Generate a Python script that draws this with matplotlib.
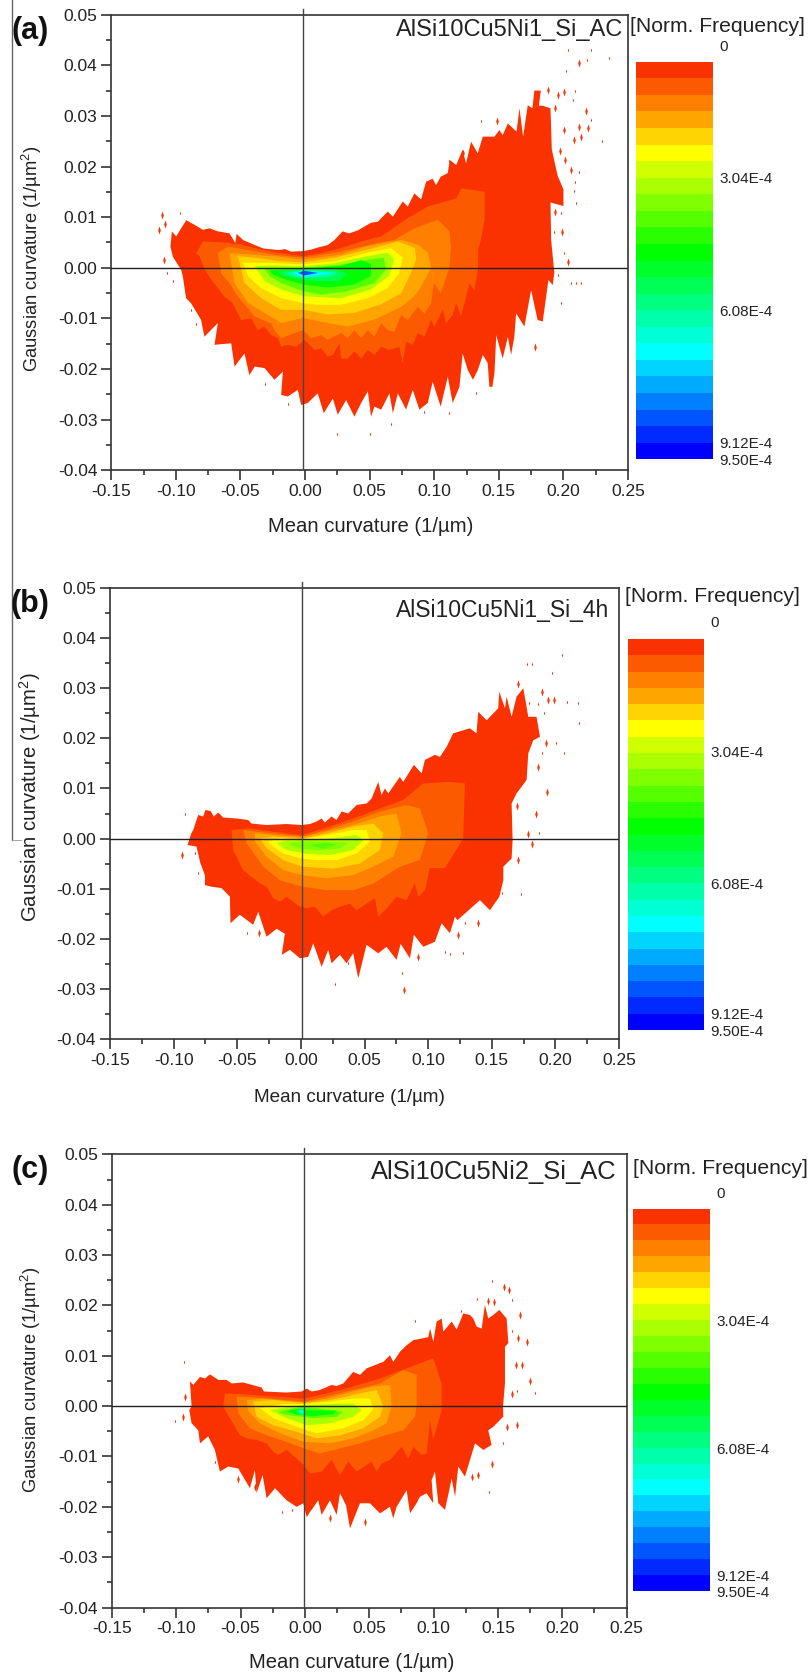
import matplotlib
matplotlib.use('Agg')
import matplotlib.pyplot as plt
from matplotlib.colors import ListedColormap
import numpy as np

plt.rcParams['font.family'] = ['Liberation Sans', 'DejaVu Sans']
plt.rcParams['axes.unicode_minus'] = False
plt.rcParams['mathtext.default'] = 'regular'

# colour of each of the 24 bands, top of the legend to bottom
band_colors = ['#FA3200', '#FC5A00', '#FF8000', '#FFA500', '#FFD400', '#FFFF00',
               '#D0FF00', '#AAFF00', '#80FF00', '#55FF00', '#2AFF00', '#00FF00',
               '#00FF2A', '#00FF55', '#00FF80', '#00FFAA', '#00FFD4', '#00FFFF',
               '#00D4FF', '#00AAFF', '#0080FF', '#0055FF', '#002AFF', '#0000FF']
cbar_labels = ['0', '3.04E-4', '6.08E-4', '9.12E-4', '9.50E-4']
xticks = [-0.15, -0.10, -0.05, 0.00, 0.05, 0.10, 0.15, 0.20, 0.25]
xminor = [-0.125, -0.075, -0.025, 0.025, 0.075, 0.125, 0.175, 0.225]
yticks = [-0.04, -0.03, -0.02, -0.01, 0.00, 0.01, 0.02, 0.03, 0.04, 0.05]
yminor = [-0.035, -0.025, -0.015, -0.005, 0.005, 0.015, 0.025, 0.035, 0.045]

# panel (a): outer edge of the distribution
a_outer_x = [-.1031, -.0998, -.092, -.0856, -.0791, -.074, -.0675, -.0585, -.054, -.053, -.048, -.039, -.032, -.024,
             -.020, -.0155, -.011, -.0015, .0047, .0098, .0176, .0228, .029, .034, .041, .051, .0563, .064, .068,
             .0756, .0795, .0846, .0898, .0937, .0988, .1014, .105, .1105, .112, .117, .122, .1246, .1285, .1337,
             .1376, .1466, .1505, .153, .157, .1637, .166, .1688, .1724, .176, .1775, .1825, .181, .184, .190,
             .191, .1955, .2, .2, .19, .1905, .193, .1917, .1884, .184, .180, .175, .1698, .1634, .162, .1595,
             .157, .153, .148, .1466, .145, .1427, .1414, .1376, .1337, .13, .126, .122, .1195, .1143, .1105,
             .105, .0988, .095, .0885, .0834, .0782, .0718, .068, .0653, .0589, .0537, .0511, .0486, .0434,
             .0382, .0318, .0253, .0215, .0145, .0098, .002, -.003, -.0056, -.0134, -.0185, -.0172, -.0237,
             -.0314, -.039, -.0431, -.0469, -.0546, -.0572, -.0701, -.0675, -.0779, -.0805, -.0882, -.0921,
             -.0946, -.0959, -.1024, -.1042]
a_outer_y = [.0072, .0062, .0094, .0085, .0075, .0078, .0072, .0068, .0049, .0067, .0055, .0045, .0038, .0036,
             .0035, .0037, .0032, .0033, .0036, .004, .0045, .0055, .0072, .0068, .0074, .0089, .0091, .0111, .0101,
             .0131, .0121, .0147, .0135, .017, .0176, .0163, .018, .0187, .0213, .0203, .0233, .0206, .0249, .0226,
             .0259, .0259, .0272, .0262, .0285, .0269, .0315, .0259, .0321, .0315, .035, .035, .032, .032, .0315,
             .0234, .0182, .0155, .0122, .0129, .0055, -.001, -.0034, -.0024, -.0106, -.0103, -.0044, -.0116, -.009,
             -.0136, -.0172, -.0136, -.0179, -.0133, -.0208, -.0235, -.0235, -.0188, -.0172, -.0202, -.0221, -.0202,
             -.0169, -.0235, -.0267, -.0215, -.0274, -.0225, -.0267, -.028, -.0241, -.028, -.0248, -.0287, -.0248,
             -.028, -.0274, -.0294, -.0244, -.0267, -.0294, -.0261, -.029, -.0258, -.0287, -.0248, -.0267, -.0271,
             -.0241, -.0254, -.0251, -.0205, -.0221, -.0198, -.0195, -.0212, -.0169, -.0195, -.0149, -.0152, -.0109,
             -.0136, -.0103, -.007, -.006, -.0017, -.0004, .0022, .0042]
# panel (a): inner bands, index into band_colors
a_levels = [1, 2, 3, 4, 5, 7, 9, 11, 13, 15, 17, 21]
a_band_x = [
    [-.0843, -.079, -.0624, -.0495, -.034, -.016, -.0015, .0125, .028, .0434, .059, .0795, .095, .117, .121, .139, .139,
     .136, .134, .134, .1311, .1272, .1208, .117, .1143, .1092, .1066, .1002, .0976, .0924, .0873, .0834, .0782, .0756, .0731,
     .0653, .0589, .0537, .0486, .0434, .0382, .0331, .0279, .0266, .0215, .0176, .0124, .0073, -.0005, -.0069, -.0134,
     -.0185, -.0211, -.0263, -.0314, -.0366, -.0417, -.0495, -.056, -.0624, -.0727, -.0778, -.0817],
    [-.0675, -.0598, -.0443, -.0237, -.0015, .028, .0537, .0692, .0846, .1027, .1117, .113, .1117, .105, .0998, .0976, .0924,
     .0873, .0795, .0744, .0692, .064, .0589, .0537, .0486, .0434, .0382, .0331, .0279, .0176, .0124, .0047, -.0015, -.0082,
     -.0185, -.0237, -.0263, -.0327, -.0392, -.0431, -.052, -.0585, -.0649],
    [-.0585, -.0237, -.0015, .028, .0485, .0745, .0872, .095, .0977, .090, .0846, .0745, .0537, .033, .0176, -.0015,
     -.0185, -.0314, -.0443, -.0546],
    [-.052, -.0392, -.0185, -.0015, .0228, .0485, .072, .085, .086, .082, .0745, .059, .038, .0176, -.0015, -.0185,
     -.034, -.0469],
    [-.048, -.0288, -.0015, .0228, .0485, .0666, .0756, .073, .064, .0485, .028, .0098, -.0015, -.0185, -.034, -.0443],
    [-.039, -.0237, -.0015, .0228, .0485, .064, .069, .065, .051, .028, -.0015, -.0185, -.0314],
    [-.0314, -.0015, .028, .0485, .061, .0627, .0537, .033, .0125, -.0015, -.0185, -.0275],
    [-.0275, -.0015, .028, .0434, .051, .051, .038, .0176, -.0015, -.016, -.0249],
    [-.021, -.0015, .0228, .033, .0253, .0072, -.0056, -.0172],
    [-.016, -.0015, .0217, .0253, .0176, -.0015, -.011],
    [-.0095, -.0015, .0228, .0098, -.0015, -.0056],
    [-.0056, -.0005, .01, -.0005]]
a_band_y = [
    [.0029, .0052, .005, .0046, .0036, .0028, .0023, .0029, .0039, .0052, .0062, .0098, .0121, .0137, .0157, .015, .0095,
     .0055, .0035, 0, -.0044, -.0031, -.0096, -.007, -.0093, -.011, -.0083, -.0116, -.0103, -.0136, -.0129, -.0152, -.0146,
     -.0188, -.0156, -.0162, -.0156, -.0172, -.0162, -.0179, -.0165, -.0179, -.0179, -.0149, -.0172, -.0175, -.0159, -.0162,
     -.0142, -.0156, -.0152, -.0156, -.0139, -.0133, -.0116, -.0123, -.01, -.0103, -.007, -.0057, -.0023, -.0003, .0023],
    [.0029, .0042, .0035, .0026, .002, .0032, .0048, .0055, .0078, .0095, .0072, .0042, 0, -.005, -.003, -.007, -.009,
     -.0077, -.0103, -.0093, -.0126, -.0123, -.011, -.0136, -.0123, -.0139, -.0123, -.0139, -.0129, -.0142, -.0133, -.0139,
     -.0123, -.0129, -.0139, -.0123, -.011, -.0103, -.0096, -.0083, -.0057, -.003, -.0011],
    [.0029, .0023, .0016, .0026, .0043, .0055, .0046, .003, 0, -.0036, -.0056, -.0077, -.0102, -.0116, -.0109, -.0099,
     -.0109, -.0089, -.0069, -.003],
    [.0023, .002, .0013, .0011, .002, .0036, .0052, .0039, .0016, -.001, -.005, -.0072, -.0089, -.0092, -.0083, -.0083,
     -.006, -.003],
    [.001, .001, .0007, .0013, .003, .0039, .002, -.001, -.004, -.006, -.0073, -.0073, -.007, -.006, -.004, -.0016],
    [.0003, .0005, .0003, .0009, .0023, .003, .0016, -.0016, -.0043, -.006, -.0056, -.0043, -.0026],
    [-.0002, 0, .0006, .0016, .002, -.0003, -.003, -.0046, -.0053, -.0046, -.003, -.0016],
    [-.0005, -.0002, .0004, .0015, .0007, -.0016, -.0033, -.0039, -.0033, -.0022, -.0013],
    [-.0007, -.0003, -.0003, -.0013, -.0026, -.0026, -.0022, -.0015],
    [-.001, -.0005, -.0007, -.0011, -.0018, -.002, -.0016],
    [-.001, -.0006, -.001, -.0015, -.0018, -.0015],
    [-.001, -.0006, -.001, -.0015]]
# panel (a): isolated specks
a_small_x = [-.0972, .2092, .2072, .2038, .2214, .218, .202, .2355, .2214, .2298, .2123, .209, .208, .2098, .198, .193, .1362,
             .1117, -.1067, -.1024, -.0882, -.0843, -.0314, -.0134, .1956, .2007, .1982, .2059, .2098, .2136, .1324,
             .1117, .0666, .0504, .0924, .0246]
a_small_y = [.0108, .035, .0332, .043, .043, .0411, .0389, .0414, .0292, .0251, .019, .017, .0151, .0128, .0108, .007, .0289,
             .021, -.0011, -.0027, -.0083, -.011, -.023, -.0269, -.0014, .003, -.007, -.0029, -.0029, -.0029, -.0248,
             -.0287, -.0309, -.0328, -.0284, -.0329]
a_tall_x = [-.1109, -.1127, -.1085, .1883, .1956, .2007, .2118, .1938, .2175, .2188, .2123, .2136, .208, .1976, .2007, .2012,
            .2059, .1935, .1987, .1486, .1221, -.1093, .2033, .178]
a_tall_y = [.0105, .0074, .0087, .0351, .0341, .0348, .0404, .0315, .0309, .0276, .0279, .0259, .0253, .023, .0272, .0213,
            .0193, .0111, .007, .0289, .0226, .0016, .0012, -.0157]

# panel (b)
b_outer_x = [-.0846, -.0807, -.0768, -.075, -.071, -.0684, -.065, -.061, -.0505, -.0414, -.0388, -.027, -.0113, .0008, .0071,
             .0123, .0163, .0189, .0241, .028, .032, .0372, .0438, .0517, .0556, .0608, .0634, .066, .0687, .0778, .0804,
             .0888, .0949, .0975, .1053, .1093, .1145, .1197, .1328, .138, .1394, .146, .1551, .1559, .1604, .1617, .1656,
             .1695, .1748, .1787, .1852, .1879, .1826, .1787, .1774, .1695, .1656, .1664, .1656, .1591, .1591, .156, .1486,
             .1407, .123, .1211, .1171, .1106, .1053, .0962, .0888, .0857, .0784, .0752, .0673, .0608, .0516, .0451, .0411,
             .0359, .0307, .0241, .0215, .0163, .0097, .0058, -.0008, -.0086, -.015, -.0126, -.019, -.027, -.0335, -.0375,
             -.048, -.0553, -.0558, -.0623, -.0702, -.0754, -.0754, -.079, -.082, -.0891, -.086]
b_outer_y = [.0017, .0047, .0044, .0057, .0055, .0044, .0052, .0042, .004, .0037, .003, .0027, .0029, .0027, .0029, .0034, .004,
             .0032, .0044, .0037, .0054, .005, .0067, .007, .008, .0113, .0087, .01, .009, .0123, .0113, .0147, .013, .0157,
             .0167, .0163, .0183, .021, .022, .021, .0253, .0236, .026, .0293, .026, .0283, .0243, .0283, .03, .0243, .0243,
             .0203, .0196, .017, .0117, .009, .007, -.0003, -.004, -.0056, -.0083, -.0116, -.0143, -.0123, -.0163, -.0156,
             -.0189, -.0169, -.0206, -.0216, -.0192, -.0239, -.021, -.0242, -.0216, -.0229, -.0212, -.0279, -.0229, -.0249,
             -.0232, -.0249, -.0222, -.0256, -.0209, -.0236, -.0239, -.0222, -.0232, -.019, -.018, -.0196, -.0146, -.0172,
             -.0152, -.0169, -.0116, -.0099, -.0096, -.0093, -.0073, -.0049, -.0016, -.0013, .0011]
b_levels = [1, 2, 3, 4, 5, 7, 8, 9]
b_band_x = [
    [-.0545, -.0401, -.0217, .0008, .0176, .0411, .0622, .0804, .0962, .1171, .1289, .1276, .1132, .1014, .0975, .0922, .0896, .083,
     .0752, .0687, .0608, .0582, .0516, .0438, .0385, .0307, .0241, .0176, .011, .0045, -.0008, -.0113, -.0165, -.0217, -.027,
     -.0322, -.0375, -.0453, -.0532],
    [-.0453, -.0348, .0008, .0202, .0411, .0622, .083, .0935, .1001, .0935, .0778, .0569, .0411, .0202, .0008, -.0165, -.0296,
     -.0427],
    [-.0361, -.0217, .0008, .0202, .0411, .0622, .0752, .0791, .0726, .0569, .0411, .0202, .0008, -.0139, -.027, -.0361],
    [-.0322, -.0217, .0008, .0202, .0411, .0569, .0647, .0621, .0464, .025, .0008, -.0139, -.027],
    [-.0257, -.0165, .0008, .0202, .0411, .0516, .0542, .0438, .0281, .0123, .0008, -.0139, -.0217],
    [-.0191, -.0113, .0008, .023, .0438, .0491, .0411, .023, .0045, -.0113],
    [-.0099, .0008, .0202, .0372, .0307, .0123, .0008, -.006],
    [.0071, .0202, .0281, .0176]]
b_band_y = [
    [.0017, .002, .0014, .0007, .002, .004, .006, .0077, .011, .0113, .011, 0, -.0059, -.0059, -.0103, -.0116, -.0089, -.0123,
     -.0116, -.0136, -.0156, -.0119, -.013, -.0143, -.013, -.0136, -.0143, -.0156, -.0136, -.0139, -.0136, -.0116, -.0126, -.0119,
     -.0096, -.0089, -.0079, -.0063, -.0023],
    [.0017, .0014, .0004, .0017, .0034, .0054, .0067, .006, .0011, -.0043, -.0056, -.009, -.0103, -.0103, -.0096, -.0083, -.0056,
     -.0009],
    [.0011, .0007, .0003, .0014, .0027, .0044, .005, .0011, -.0036, -.0056, -.0073, -.0079, -.0073, -.0063, -.0036, -.0006],
    [0, .0004, 0, .001, .0024, .003, .0011, -.0023, -.005, -.006, -.0056, -.0043, -.0019],
    [-.0006, 0, -.0001, .0007, .0017, .0017, -.0006, -.003, -.0043, -.0043, -.004, -.003, -.0016],
    [-.0009, -.0004, -.0003, 0, .0007, -.0003, -.0023, -.0033, -.003, -.0023],
    [-.0009, -.0006, -.0006, -.0008, -.002, -.0023, -.002, -.0016],
    [-.0013, -.0008, -.0013, -.002]]
b_small_x = [-.0912, .1795, .186, .191, .197, .2049, .1774, .1813, .2094, .2175, .2185, .1892, .207, .2002, .1873, .1577, .1289,
             .1271, .1132, .1171, .0791, .0267, .0372, -.0427, -.0812, -.0833, .1729]
b_small_y = [.005, .0271, .0268, .0251, .033, .0366, .0348, .0348, .0272, .027, .023, .017, .0171, .019, .0011, -.0109, -.0169,
             -.0229, -.0226, -.023, -.0269, -.029, -.0249, -.0189, -.0069, -.0029, -.0111]
b_tall_x = [.1708, .1892, .1944, .1991, .1923, .1866, .1931, .1847, .1702, .1787, .1813, .1708, .1394, .1237, .081, .0922, -.033,
            -.0933]
b_tall_y = [.0308, .0293, .0276, .0276, .019, .0143, .0093, .005, .0064, .001, -.001, -.0043, -.0169, -.0192, -.0302, -.0236,
            -.0189, -.0033]

# panel (c)
c_outer_x = [-.0893, -.0867, -.0815, -.0776, -.0737, -.0672, -.0608, -.0569, -.0479, -.0336, -.0318, -.0142, -.0025, .0014, .0053,
             .0117, .0208, .0247, .0299, .0376, .0428, .048, .061, .0661, .0687, .0739, .0791, .0843, .0959, .0973, .0998,
             .1024, .1063, .1076, .1141, .118, .1231, .1283, .1309, .1335, .1374, .1399, .1425, .1464, .1511, .1568, .1581,
             .1555, .1555, .154, .1542, .1464, .1425, .1451, .1387, .1322, .1283, .1244, .1192, .1167, .1141, .1089, .1037,
             .1011, .0985, .0998, .0946, .0894, .0868, .0817, .0791, .0713, .0687, .0661, .0584, .0506, .0428, .0351, .032,
             .0273, .0247, .0195, .013, .0104, .0014, -.0012, -.0064, -.0142, -.0232, -.0297, -.0328, -.0375, -.0388, -.0427,
             -.0517, -.0595, -.066, -.0699, -.0751, -.0815, -.0828, -.088, -.0898, -.088]
c_outer_y = [.0049, .0042, .0058, .0055, .0063, .0052, .0052, .0045, .0047, .0037, .0029, .0027, .0029, .0035, .0029, .0032, .0042,
             .004, .0045, .0068, .0062, .0075, .0088, .0101, .0088, .0108, .0121, .0131, .0137, .0154, .0128, .0168, .0174,
             .0148, .0168, .0152, .0184, .0181, .0174, .0158, .0154, .0201, .0174, .0181, .0191, .0174, .0125, .0118, .0045, 0,
             -.0021, -.0041, -.0048, -.0077, -.0087, -.0074, -.0107, -.014, -.012, -.018, -.0144, -.0206, -.0193, -.013, -.0147,
             -.0193, -.0173, -.018, -.0193, -.0213, -.0167, -.02, -.0223, -.02, -.0213, -.0193, -.0193, -.0243, -.0197, -.0173,
             -.0216, -.0187, -.0216, -.0187, -.022, -.0193, -.02, -.0187, -.0163, -.0183, -.0137, -.0173, -.0127, -.0163, -.0124,
             -.012, -.013, -.0087, -.006, -.0074, -.0048, -.0034, -.0008, 0]
c_levels = [1, 2, 3, 4, 5, 7, 9, 11, 16]
c_band_x = [
    [-.0621, -.0504, -.0245, -.0007, .0169, .0376, .0584, .0791, .0998, .1063, .1063, .1063, .0998, .0972, .0946, .0907, .0843, .0804,
     .0752, .0661, .0596, .0558, .0519, .0402, .0337, .0273, .0208, .013, .004, -.0007, -.0064, -.0142, -.0206, -.0245, -.0297,
     -.0375, -.0452, -.0504, -.0582, -.0634],
    [-.053, -.0375, -.0007, .0169, .0376, .0584, .0765, .0869, .0869, .0856, .0765, .0584, .0428, .0273, .0117, -.0007, -.0142, -.0297,
     -.0427, -.0517],
    [-.0452, -.0323, -.0007, .0169, .0376, .0532, .0661, .0674, .0635, .0532, .0376, .0195, -.0007, -.0193, -.0349, -.044],
    [-.0401, -.0245, -.0007, .0195, .0376, .0558, .061, .0584, .0454, .0273, .0091, -.0064, -.0245, -.0375],
    [-.0349, -.0168, -.0007, .0195, .0376, .0506, .0532, .0454, .0299, .0091, -.0064, -.0245],
    [-.0271, -.0116, -.0007, .0195, .0376, .0441, .0376, .0195, .0014, -.0142],
    [-.0206, -.0064, -.0007, .0169, .0299, .0247, .0065, -.0064, -.0168],
    [-.0142, -.0033, .0014, .0247, .022, .0065, -.0064],
    [-.0064, -.002, 0, -.002]]
c_band_y = [
    [.0025, .0024, .0019, .0015, .0025, .0039, .0055, .0075, .0095, .0045, 0, -.0008, -.0067, -.0028, -.0094, -.0097, -.0081, -.0104,
     -.0081, -.0107, -.0114, -.013, -.011, -.013, -.011, -.0137, -.0107, -.013, -.0134, -.0117, -.0104, -.0087, -.0097, -.0091,
     -.0074, -.0067, -.0064, -.0058, -.0024, -.0001],
    [.0019, .0017, .0009, .0019, .0032, .0045, .0072, .0062, 0, -.0021, -.0048, -.0061, -.0074, -.0084, -.0094, -.0084, -.0071, -.0058,
     -.0044, -.0014],
    [.0012, .0015, .0007, .0015, .0029, .0039, .0042, 0, -.0034, -.0048, -.0064, -.0074, -.0071, -.0054, -.0034, -.001],
    [.0009, .0012, .0006, .0012, .0022, .0032, 0, -.0021, -.0044, -.0058, -.0064, -.0051, -.0038, -.0021],
    [-.0004, .0004, .0004, .0009, .0015, .0015, -.0006, -.0028, -.0044, -.0054, -.0041, -.0024],
    [-.0008, -.0001, .0002, .0004, .0005, -.0008, -.0021, -.0034, -.0038, -.0024],
    [-.0011, -.0003, -.0001, -.0007, -.0011, -.0021, -.0024, -.002, -.0016],
    [-.001, -.0005, -.0008, -.0009, -.0016, -.002, -.0017],
    [-.0009, -.0006, -.0011, -.0018]]
c_small_x = [-.1006, -.0939, .0856, .121, .1335, .1451, .1612, .1607, .1788, .1645, .1431, -.0181, -.0103, -.0699, .1542]
c_small_y = [-.0029, .0088, .0169, .0189, .0212, .0249, .0211, .015, .0027, .003, -.017, -.021, -.0206, -.011, -.0074]
c_tall_x = [-.0932, -.0945, .1425, .1469, .1547, .1586, .1671, .1658, .1723, .164, .1684, .1749, .1607, .1645, .1568, .1347, .1296,
            .1451, -.0517, -.0388, .0014, .0195, .0467]
c_tall_y = [.0019, -.0021, .0209, .0207, .0237, .0231, .0181, .0135, .0128, .0082, .0082, .005, .0025, -.0038, -.0041, -.0137, -.014,
            -.0114, -.0144, -.016, -.021, -.0223, -.023]

W, H = 811.0, 1677.0
fig = plt.figure(figsize=(W / 100, H / 100), dpi=100)
# narrow upright speck
speck = [(0, 1), (0.32, 0), (0, -1), (-0.32, 0), (0, 1)]


def px_axes(left, right, top, bottom):
    return fig.add_axes([left / W, 1 - bottom / H, (right - left) / W, (bottom - top) / H])


def px_text(x, y, s, **kw):
    fig.text(x / W, 1 - y / H, s, **kw)


def draw_panel(box, vline, outer_x, outer_y, levels, band_x, band_y, small_x, small_y, tall_x, tall_y):
    ax = px_axes(*box)
    ax.fill(outer_x, outer_y, color=band_colors[0], lw=0, zorder=1)
    ax.scatter(small_x, small_y, s=8, marker=speck, color=band_colors[0], linewidths=0, zorder=1)
    ax.scatter(tall_x, tall_y, s=34, marker=speck, color=band_colors[0], linewidths=0, zorder=1)
    for lev, bx, by in zip(levels, band_x, band_y):
        ax.fill(bx, by, color=band_colors[lev], lw=0, zorder=2)
    ax.axhline(0, color='#222222', lw=1.0, zorder=3)
    ax.axvline(vline, color='#444444', lw=1.0, zorder=3)
    ax.plot([vline, vline], [0.05, 0.0512], color='#444444', lw=1.0, clip_on=False, zorder=3)
    ax.set_xlim(-0.15, 0.25)
    ax.set_ylim(-0.04, 0.05)
    ax.set_xticks(xticks)
    ax.set_xticklabels(['%.2f' % v for v in xticks])
    ax.set_xticks(xminor, minor=True)
    ax.set_yticks(yticks)
    ax.set_yticklabels(['%.2f' % v for v in yticks])
    ax.set_yticks(yminor, minor=True)
    ax.tick_params(which='major', length=7, width=1.1, labelsize=12.5, pad=3, color='#222222', labelcolor='#222222')
    ax.tick_params(which='minor', length=3.5, width=1.1, color='#222222')
    for s in ax.spines.values():
        s.set_linewidth(1.2)
        s.set_color('#333333')
    return ax


def draw_cbar(left, right, top, bottom, text_x, label_ys):
    cax = px_axes(left, right, top, bottom)
    vals = np.arange(len(band_colors)).reshape(-1, 1)
    cax.pcolormesh(vals, cmap=ListedColormap(band_colors), vmin=0, vmax=len(band_colors) - 1)
    cax.invert_yaxis()
    cax.axis('off')
    for lab, y in zip(cbar_labels, label_ys):
        px_text(text_x, y, lab, fontsize=11, va='center', ha='left', color='#222222')


ylab = 'Gaussian curvature (1/µm$^{2}$)'
xlab = 'Mean curvature (1/µm)'
txt = dict(color='#222222', va='center', ha='center')
letter = dict(fontsize=22, fontweight='bold', color='#111111', va='center', ha='center')

# (a)
draw_panel((111.3, 628, 14.6, 470.4), -0.0015, a_outer_x, a_outer_y, a_levels, a_band_x, a_band_y,
           a_small_x, a_small_y, a_tall_x, a_tall_y)
draw_cbar(635.7, 713, 61.7, 459.3, 719, [46.7, 179, 312, 444, 461])
px_text(30, 31, '(a)', **letter)
px_text(509.5, 30, 'AlSi10Cu5Ni1_Si_AC', fontsize=17, **txt)
px_text(717, 27, '[Norm. Frequency]', fontsize=15.2, **txt)
px_text(371, 526, xlab, fontsize=14.6, **txt)
px_text(32, 259, ylab, fontsize=13.2, rotation=90, **txt)

# (b)
draw_panel((110, 619, 588, 1039), 0.0008, b_outer_x, b_outer_y, b_levels, b_band_x, b_band_y,
           b_small_x, b_small_y, b_tall_x, b_tall_y)
draw_cbar(628, 704, 639, 1030, 710, [623, 753, 885, 1015, 1032])
px_text(30, 604, '(b)', **letter)
px_text(503, 610, 'AlSi10Cu5Ni1_Si_4h', fontsize=16.5, **txt)
px_text(712, 597, '[Norm. Frequency]', fontsize=15.2, **txt)
px_text(349.6, 1097, xlab, fontsize=13.6, **txt)
px_text(30, 797, ylab, fontsize=14.6, rotation=90, **txt)

# (c)
draw_panel((111.8, 626.6, 1154.4, 1607.5), -0.0007, c_outer_x, c_outer_y, c_levels, c_band_x, c_band_y,
           c_small_x, c_small_y, c_tall_x, c_tall_y)
draw_cbar(633, 710, 1208.5, 1591, 716.6, [1194, 1321.5, 1450, 1577, 1593])
px_text(30, 1170, '(c)', **letter)
px_text(494, 1172.5, 'AlSi10Cu5Ni2_Si_AC', fontsize=18.4, **txt)
px_text(720, 1168, '[Norm. Frequency]', fontsize=15.2, **txt)
px_text(352, 1663, xlab, fontsize=14.6, **txt)
px_text(31, 1380, ylab, fontsize=13.2, rotation=90, **txt)

# stray rule down the left of the page
fig.add_artist(plt.Line2D([11.5 / W, 11.5 / W], [1.0, 1 - 840 / H], color='#666666', lw=1.0))
fig.add_artist(plt.Line2D([11.5 / W, 21 / W], [1 - 840 / H, 1 - 840 / H], color='#999999', lw=0.6))

fig.savefig('out.png', dpi=100)
